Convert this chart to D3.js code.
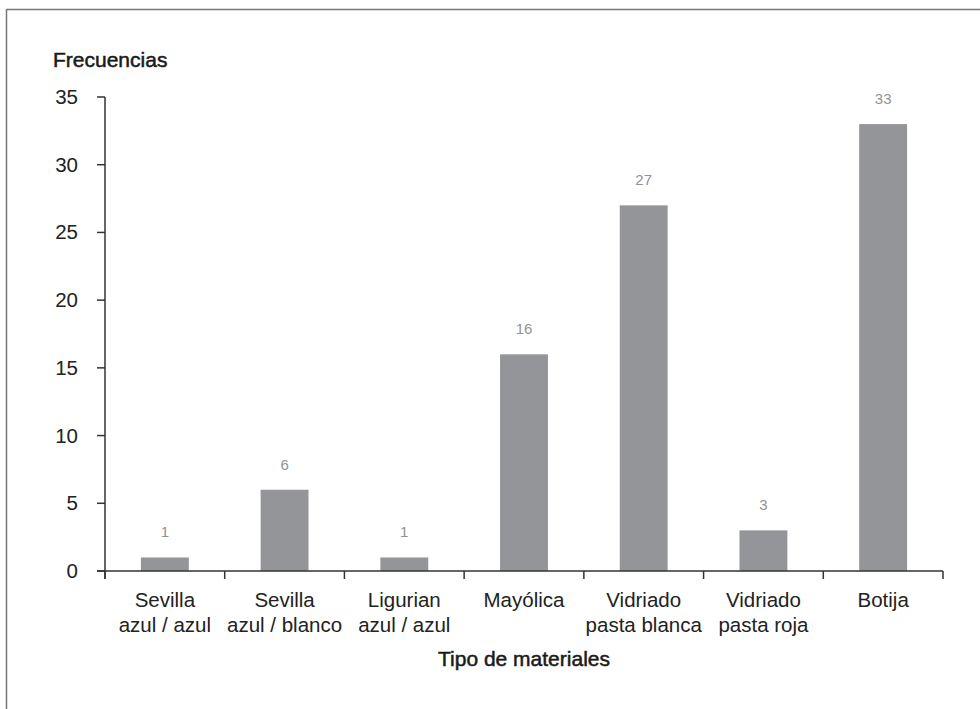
<!DOCTYPE html>
<html><head><meta charset="utf-8">
<script src="https://cdn.jsdelivr.net/npm/d3@7"></script>
<style>body{margin:0;background:#fff}svg{display:block;font-family:"Liberation Sans",Arial,sans-serif}</style>
</head><body><svg id="c" width="980" height="709"></svg>
<script>
const categories = [["Sevilla","azul / azul"],["Sevilla","azul / blanco"],["Ligurian","azul / azul"],["Mayólica"],["Vidriado","pasta blanca"],["Vidriado","pasta roja"],["Botija"]];
const values = [1,6,1,16,27,3,33];
const yTicks = [0,5,10,15,20,25,30,35];
const yTitle = "Frecuencias";
const xTitle = "Tipo de materiales";

const svg = d3.select("#c");
svg.append("rect").attr("x",6.5).attr("y",9.5).attr("width",1000).attr("height",1000)
  .attr("fill","none").attr("stroke","#777").attr("stroke-width",1.5);

const x = d3.scaleBand().domain(d3.range(values.length)).range([105,943]);
const y = d3.scaleLinear().domain([0,35]).range([571,97]);
const bw = x.bandwidth()*0.4;

svg.selectAll("rect.bar").data(values).join("rect").attr("class","bar")
  .attr("x",(d,i)=>x(i)+x.bandwidth()/2-bw/2).attr("width",bw)
  .attr("y",d=>y(d)).attr("height",d=>y(0)-y(d)).attr("fill","#939598");

svg.selectAll("text.val").data(values).join("text").attr("class","val")
  .attr("x",(d,i)=>x(i)+x.bandwidth()/2).attr("y",d=>y(d)-20)
  .attr("text-anchor","middle").attr("font-size",15).attr("fill","#929292").text(d=>d);

// y axis
const ya = svg.append("g");
ya.append("line").attr("x1",105).attr("x2",105).attr("y1",y(35)).attr("y2",y(0)+8).attr("stroke","#333").attr("stroke-width",1.5);
ya.selectAll("line.t").data(yTicks).join("line").attr("class","t")
  .attr("x1",97).attr("x2",105).attr("y1",d=>y(d)).attr("y2",d=>y(d)).attr("stroke","#333").attr("stroke-width",1.5);
ya.selectAll("text").data(yTicks).join("text")
  .attr("x",78).attr("y",d=>y(d)+7).attr("text-anchor","end").attr("font-size",20.5).attr("fill","#222").text(d=>d);

// x axis
const xa = svg.append("g");
xa.append("line").attr("x1",97).attr("x2",943).attr("y1",y(0)).attr("y2",y(0)).attr("stroke","#333").attr("stroke-width",1.5);
const bounds = d3.range(values.length+1).map(i=> i<values.length ? x(i) : x(i-1)+x.bandwidth());
xa.selectAll("line.t").data(bounds).join("line").attr("class","t")
  .attr("x1",d=>d).attr("x2",d=>d).attr("y1",y(0)).attr("y2",y(0)+8).attr("stroke","#333").attr("stroke-width",1.5);
const lab = xa.selectAll("text").data(categories).join("text")
  .attr("text-anchor","middle").attr("font-size",20.5).attr("fill","#222");
lab.each(function(d,i){
  d3.select(this).selectAll("tspan").data(d).join("tspan")
    .attr("x",x(i)+x.bandwidth()/2).attr("y",(t,j)=>607+j*24.5).text(t=>t);
});

svg.append("text").attr("x",53).attr("y",67).attr("font-size",21).attr("fill","#1a1a1a")
  .attr("stroke","#1a1a1a").attr("stroke-width",0.5).text(yTitle);
svg.append("text").attr("x",524).attr("y",666).attr("text-anchor","middle").attr("font-size",21).attr("fill","#1a1a1a")
  .attr("stroke","#1a1a1a").attr("stroke-width",0.5).text(xTitle);
</script></body></html>
